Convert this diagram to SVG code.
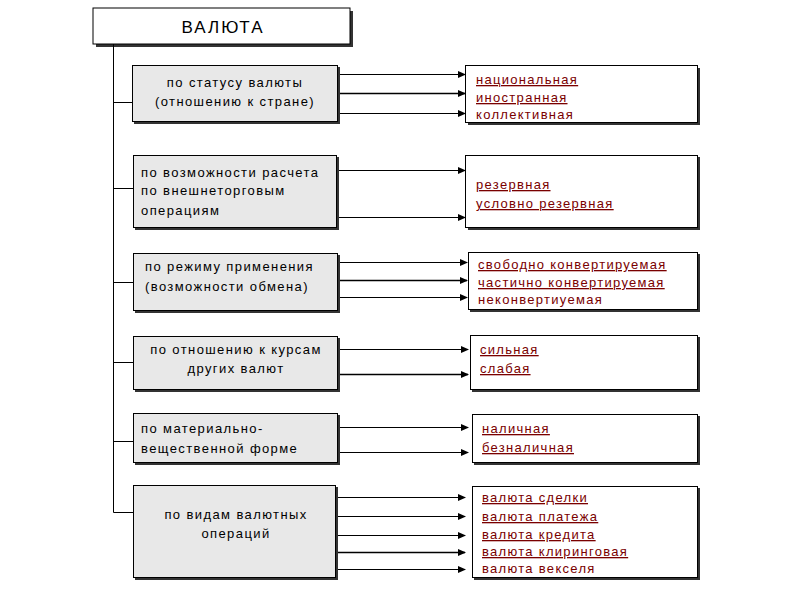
<svg xmlns="http://www.w3.org/2000/svg" width="800" height="600" viewBox="0 0 800 600">
<style>
.shadow{fill:#333}
.cat{fill:#e8e8e8;stroke:#000;stroke-width:1}
.res{fill:#fff;stroke:#000;stroke-width:1}
.ct{font-family:"Liberation Sans",Arial,sans-serif;font-size:13px;letter-spacing:1.4px;fill:#000}
.rt{font-family:"Liberation Sans",Arial,sans-serif;font-size:13px;letter-spacing:1.3px;fill:#7a0000}
.u{text-decoration:underline}
.ln{stroke:#000;stroke-width:1;fill:none}
</style>
<defs>
<marker id="ah" markerWidth="8" markerHeight="8" refX="7" refY="3.5" orient="auto" markerUnits="userSpaceOnUse">
<path d="M0,0 L8,3.5 L0,7 Z" fill="#000"/>
</marker>
</defs>
<rect width="800" height="600" fill="#fff"/>

<g id="root">
<rect x="96" y="11" width="257" height="36" class="shadow"/>
<rect x="93" y="8" width="257" height="36" fill="#fff" stroke="#000"/>
<text x="223" y="33" text-anchor="middle" font-family="Liberation Sans,Arial,sans-serif" font-size="17" letter-spacing="2">ВАЛЮТА</text>
</g>

<g id="connectors">
<path class="ln" d="M113.5,44 V512.5 H133"/>
<path class="ln" d="M113.5,102.5 H133"/>
<path class="ln" d="M113.5,188.5 H133"/>
<path class="ln" d="M113.5,282.5 H133"/>
<path class="ln" d="M113.5,362.5 H133"/>
<path class="ln" d="M113.5,441.5 H133"/>
<g class="ln" marker-end="url(#ah)">
<line x1="338" y1="74.5" x2="465" y2="74.5"/>
<line x1="338" y1="93.5" x2="465" y2="93.5" stroke-width="1.5"/>
<line x1="338" y1="113.5" x2="465" y2="113.5"/>
<line x1="338" y1="170.5" x2="465" y2="170.5"/>
<line x1="338" y1="217.5" x2="465" y2="217.5"/>
<line x1="338" y1="262.5" x2="467" y2="262.5"/>
<line x1="338" y1="280.5" x2="467" y2="280.5" stroke-width="1.5"/>
<line x1="338" y1="297.5" x2="467" y2="297.5"/>
<line x1="338" y1="349.5" x2="468" y2="349.5"/>
<line x1="338" y1="374.5" x2="468" y2="374.5" stroke-width="1.5"/>
<line x1="338" y1="427.5" x2="468" y2="427.5"/>
<line x1="338" y1="452.5" x2="468" y2="452.5"/>
<line x1="336" y1="497.5" x2="465" y2="497.5"/>
<line x1="336" y1="516.5" x2="465" y2="516.5"/>
<line x1="336" y1="535.5" x2="465" y2="535.5"/>
<line x1="336" y1="552.5" x2="465" y2="552.5" stroke-width="1.5"/>
<line x1="336" y1="569.5" x2="465" y2="569.5"/>
</g>
</g>

<g id="cat1">
<rect x="134" y="67" width="206" height="57" class="shadow"/>
<rect x="132.5" y="65.5" width="205" height="56" class="cat"/>
<text class="ct" x="235" y="87" text-anchor="middle">по статусу валюты</text>
<text class="ct" x="235" y="106" text-anchor="middle">(отношению к стране)</text>
</g>
<g id="res1">
<rect x="468" y="68" width="232" height="57" class="shadow"/>
<rect x="465.5" y="65.5" width="232" height="57" class="res"/>
<text class="rt u" x="476" y="84">национальная</text>
<text class="rt u" x="476" y="102">иностранная</text>
<text class="rt" x="476" y="119">коллективная</text>
</g>

<g id="cat2">
<rect x="135" y="157" width="204" height="73" class="shadow"/>
<rect x="133.5" y="155.5" width="203" height="72" class="cat"/>
<text class="ct" x="141" y="177">по возможности расчета</text>
<text class="ct" x="141" y="195">по внешнеторговым</text>
<text class="ct" x="141" y="215">операциям</text>
</g>
<g id="res2">
<rect x="468" y="157" width="232" height="73" class="shadow"/>
<rect x="465.5" y="155.5" width="232" height="72" class="res"/>
<text class="rt u" x="476" y="189">резервная</text>
<text class="rt u" x="476" y="208">условно резервная</text>
</g>

<g id="cat3">
<rect x="135" y="255" width="205" height="58" class="shadow"/>
<rect x="133.5" y="253.5" width="204" height="57" class="cat"/>
<text class="ct" x="145" y="271">по режиму применения</text>
<text class="ct" x="145" y="291">(возможности обмена)</text>
</g>
<g id="res3">
<rect x="470" y="254" width="230" height="58" class="shadow"/>
<rect x="468.5" y="252.5" width="229" height="57" class="res"/>
<text class="rt u" x="478" y="269">свободно конвертируемая</text>
<text class="rt u" x="478" y="287">частично конвертируемая</text>
<text class="rt" x="478" y="304">неконвертиуемая</text>
</g>

<g id="cat4">
<rect x="135" y="338" width="205" height="54" class="shadow"/>
<rect x="133.5" y="336.5" width="204" height="53" class="cat"/>
<text class="ct" x="236" y="354" text-anchor="middle">по отношению к курсам</text>
<text class="ct" x="236" y="373" text-anchor="middle">других валют</text>
</g>
<g id="res4">
<rect x="472" y="337" width="228" height="55" class="shadow"/>
<rect x="470.5" y="335.5" width="227" height="54" class="res"/>
<text class="rt u" x="480" y="354">сильная</text>
<text class="rt u" x="480" y="373">слабая</text>
</g>

<g id="cat5">
<rect x="135" y="415" width="205" height="50" class="shadow"/>
<rect x="133.5" y="413.5" width="204" height="49" class="cat"/>
<text class="ct" x="141" y="433">по материально-</text>
<text class="ct" x="141" y="453">вещественной форме</text>
</g>
<g id="res5">
<rect x="474" y="416" width="226" height="49" class="shadow"/>
<rect x="472.5" y="414.5" width="225" height="48" class="res"/>
<text class="rt u" x="482" y="433">наличная</text>
<text class="rt u" x="482" y="452">безналичная</text>
</g>

<g id="cat6">
<rect x="135" y="487" width="203" height="93" class="shadow"/>
<rect x="133.5" y="485.5" width="202" height="92" class="cat"/>
<text class="ct" x="236" y="519" text-anchor="middle">по видам валютных</text>
<text class="ct" x="236" y="538" text-anchor="middle">операций</text>
</g>
<g id="res6">
<rect x="474" y="488" width="226" height="92" class="shadow"/>
<rect x="472.5" y="486.5" width="225" height="91" class="res"/>
<text class="rt u" x="482" y="502">валюта сделки</text>
<text class="rt u" x="482" y="521">валюта платежа</text>
<text class="rt u" x="482" y="539">валюта кредита</text>
<text class="rt u" x="482" y="556">валюта клиринговая</text>
<text class="rt" x="482" y="573">валюта векселя</text>
</g>
</svg>
